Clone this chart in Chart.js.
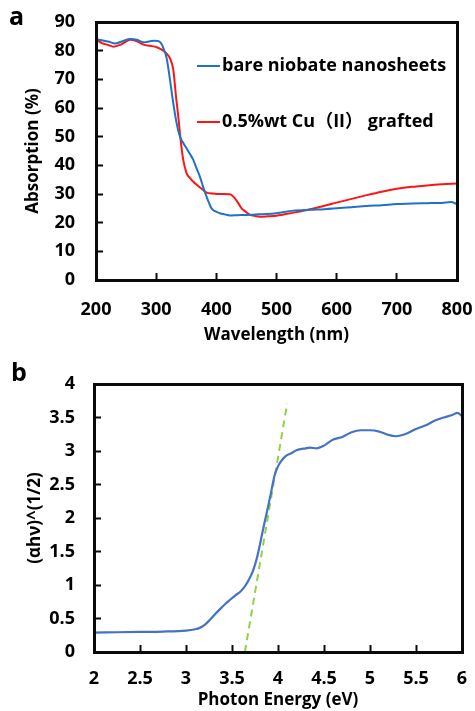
<!DOCTYPE html>
<html><head><meta charset="utf-8">
<script src="https://cdn.jsdelivr.net/npm/chart.js@4/dist/chart.umd.min.js"></script>
<style>
html,body{margin:0;padding:0;background:#fff;width:475px;height:711px;overflow:hidden;}
.wrap{position:absolute;left:0;width:475px;}
#w1{top:0;height:350px;} #w2{top:355px;height:356px;}
.ov{position:absolute;box-sizing:border-box;pointer-events:none;background:transparent;}
.tk{position:absolute;background:#0a0a0a;pointer-events:none;}
</style></head>
<body>
<div class="wrap" id="w1"><canvas id="c1" width="475" height="350"></canvas></div>
<div class="wrap" id="w2"><canvas id="c2" width="475" height="356"></canvas></div>
<script>
// ---- Panel a data ----
const wlBare  = [200,210,220,232,245,257,268,279,290,298,304,309,313,317.5,323,328.5,334,339.6,345,350.7,356,361.7,367,372.8,378,383.9,388,392,398,406,414,422.7,435,450,470,484,500,528,556,580,600,625,650,675,700,725,750,775,790,800];
const absBare = [84,83.6,83.2,82.5,83.4,84.1,83.8,82.9,83.3,83.5,83.3,82.3,80.3,77.3,69.8,61.6,54.7,50,47.8,45.9,44,41.9,39,36,32.5,29,26.8,25,24,23.3,22.9,22.5,22.6,22.7,22.9,23,23.3,24.2,24.5,24.7,25,25.4,25.8,26.1,26.5,26.7,26.8,26.9,27.2,26.5];
const wlCu    = [200,210,220,229,240,250,257,268,279,290,301,312,318,323,328.5,333,336.8,340.7,345,350.7,356,361.7,367,372.8,378,383.9,392,400.6,412,422.7,427,431,436,442,449,456,465,472.6,485,500,528,556,580,600,625,650,675,700,725,750,775,800];
const absCu   = [84,82.6,82,81.4,82,83.2,83.8,83.3,82.1,81.7,81.2,80,78.8,77.3,73.3,64,57,48.8,41.9,37.2,35.6,34.3,33.3,32.3,31.4,30.5,30.2,30,30,29.9,29.3,28.5,27,25,23.8,22.7,22.3,22.1,22.2,22.4,23.5,24.7,25.9,27,28.3,29.6,30.8,31.8,32.5,33,33.4,33.7];
const seriesNamesA = ["bare niobate nanosheets","0.5%wt Cu（II） grafted"];
// ---- Panel b data ----
const energy = [2.0,2.25,2.5,2.75,3.0,3.1,3.15,3.2,3.26,3.32,3.37,3.43,3.48,3.54,3.59,3.64,3.68,3.73,3.77,3.8,3.83,3.86,3.9,3.93,3.96,3.99,4.03,4.08,4.15,4.2,4.3,4.35,4.42,4.5,4.6,4.7,4.8,4.9,5.0,5.1,5.2,5.28,5.4,5.5,5.6,5.7,5.8,5.9,5.95,6.0];
const tauc   = [0.29,0.295,0.30,0.305,0.32,0.34,0.36,0.40,0.48,0.57,0.64,0.72,0.78,0.85,0.90,0.98,1.07,1.22,1.40,1.58,1.78,1.97,2.22,2.42,2.62,2.74,2.84,2.92,2.97,3.01,3.04,3.05,3.04,3.08,3.17,3.21,3.28,3.31,3.31,3.29,3.24,3.22,3.26,3.33,3.38,3.45,3.50,3.54,3.57,3.52];
const tangentX = [3.64,4.10];
const tangentY = [0,3.71];
const panelLetters = ["a","b"];

const FONT = '"Open Sans", "Noto Sans CJK SC", sans-serif';
const pts = (xs, ys) => xs.map((x,i)=>({x, y: ys[i]}));

const legendA = {
  id:'legendA',
  afterDraw(chart){
    const ctx=chart.ctx; const a=chart.chartArea;
    ctx.save();
    ctx.font='700 18px '+FONT; ctx.textBaseline='middle'; ctx.textAlign='left';
    chart.data.datasets.forEach((ds,i)=>{
      const yy = a.top + 44 + i*56;
      const x0 = a.left + 101;
      ctx.strokeStyle=ds.borderColor; ctx.lineWidth=2;
      ctx.beginPath(); ctx.moveTo(x0,yy); ctx.lineTo(x0+23,yy); ctx.stroke();
      ctx.fillStyle='#000'; ctx.fillText(ds.label, x0+25, yy);
    });
    ctx.restore();
  }
};
const letter = {
  id:'letter',
  afterDraw(chart, args, opts){
    const ctx=chart.ctx;
    ctx.save();
    ctx.font='700 25px '+FONT; ctx.fillStyle='#000'; ctx.textAlign='left'; ctx.textBaseline='top';
    ctx.fillText(opts.text, opts.x, opts.y);
    ctx.restore();
  }
};

const fmt = v => String(Math.round(v*10)/10);
const BORDER = {display:true, width:3, color:'#0a0a0a'};
const INNER_GRID = {display:true, drawOnChartArea:false, drawTicks:true, tickLength:-7, tickWidth:2, tickColor:'#0a0a0a', color:'#0a0a0a'};
function mainX(min,max,step,pad,title,titlePadBottom,h){
  return {type:'linear', position:'bottom', min, max, border:BORDER, grid:INNER_GRID,
    ticks:{stepSize:step, padding:pad, color:'#000', font:{family:FONT, weight:'700', size:18}, callback:fmt},
    title:{display:true, text:title, color:'#000', font:{family:FONT, weight:'700', size:17}, padding:{top:0,bottom:titlePadBottom}},
    afterFit(s){ s.height=h; s.paddingLeft=0; s.paddingRight=0; }};
}
function mainY(min,max,step,pad,title,titlePadTop,w){
  return {type:'linear', position:'left', min, max, border:BORDER, grid:INNER_GRID,
    ticks:{stepSize:step, padding:pad, color:'#000', font:{family:FONT, weight:'700', size:18}, callback:fmt},
    title:{display:true, text:title, color:'#000', font:{family:FONT, weight:'700', size:17}, padding:{top:titlePadTop,bottom:0}},
    afterFit(s){ s.width=w; s.paddingTop=0; s.paddingBottom=0; }};
}
function edge(pos,min,max){
  return {type:'linear', position:pos, min, max, border:BORDER, grid:{display:false, drawTicks:false}, ticks:{display:false},
    afterFit(s){ if(pos==='top'){s.height=0;} else {s.width=0;} s.paddingLeft=0; s.paddingRight=0; s.paddingTop=0; s.paddingBottom=0; }};
}

function overlayFrame(chart, wrapId){
  const wrap = document.getElementById(wrapId);
  const a = chart.chartArea;
  const box = document.createElement('div');
  box.className='ov';
  box.style.left=(a.left-1.5)+'px'; box.style.top=(a.top-1.5)+'px';
  box.style.width=(a.right-a.left+3)+'px'; box.style.height=(a.bottom-a.top+3)+'px';
  box.style.border='3px solid #0a0a0a';
  wrap.appendChild(box);
}

const chartA = new Chart(document.getElementById('c1'), {
  type:'line',
  data:{datasets:[
    {label:seriesNamesA[0], data:pts(wlBare,absBare), borderColor:'#1f72c9', borderWidth:2, pointRadius:0, cubicInterpolationMode:'monotone'},
    {label:seriesNamesA[1], data:pts(wlCu,absCu), borderColor:'#ff1414', borderWidth:2, pointRadius:0, cubicInterpolationMode:'monotone'}
  ]},
  options:{
    responsive:false, animation:false, devicePixelRatio:1,
    layout:{padding:{top:22,right:18,left:0,bottom:0}},
    plugins:{legend:{display:false}, tooltip:{enabled:false}, letter:{text:panelLetters[0], x:9, y:5}},
    scales:{
      x: mainX(200,800,100,26,'Wavelength (nm)',5,70),
      y: mainY(0,90,10,28,'Absorption (%)',23,96),
      x2: edge('top',200,800),
      y2: edge('right',0,90)
    }
  },
  plugins:[legendA, letter]
});

const chartB = new Chart(document.getElementById('c2'), {
  type:'line',
  data:{datasets:[
    {label:'Tauc', data:pts(energy,tauc), borderColor:'#4472c4', borderWidth:2.2, pointRadius:0, cubicInterpolationMode:'monotone'},
    {label:'Tangent', data:pts(tangentX,tangentY), borderColor:'#8fd24a', borderWidth:2, borderDash:[7,5], pointRadius:0}
  ]},
  options:{
    responsive:false, animation:false, devicePixelRatio:1,
    layout:{padding:{top:29,right:13,left:0,bottom:0}},
    plugins:{legend:{display:false}, tooltip:{enabled:false}, letter:{text:panelLetters[1], x:11, y:6}},
    scales:{
      x: mainX(2,6,0.5,23,'Photon Energy (eV)',1,59),
      y: mainY(0,4,0.5,26,'(αhν)^(1/2)',25,94),
      x2: edge('top',2,6),
      y2: edge('right',0,4)
    }
  },
  plugins:[letter]
});

overlayFrame(chartA,'w1');
overlayFrame(chartB,'w2');
</script>
</body></html>
